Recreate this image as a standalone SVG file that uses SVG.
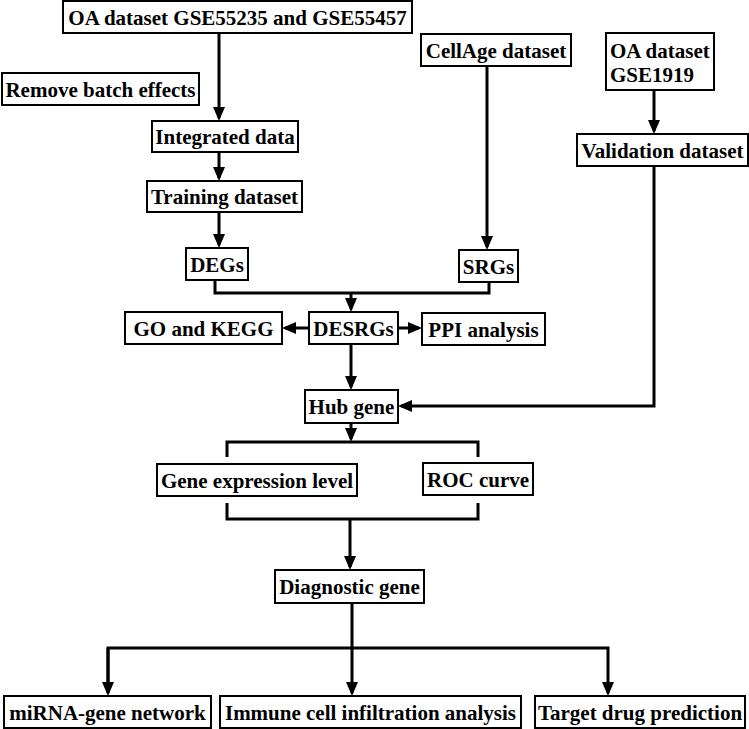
<svg xmlns="http://www.w3.org/2000/svg" width="749" height="729" viewBox="0 0 749 729">
<style>
.box{fill:#fff;stroke:#000;stroke-width:2}
.t{font-family:"Liberation Serif","Times New Roman",serif;font-weight:700;font-size:21px;fill:#000;text-anchor:middle}
.tl{text-anchor:start}
.c{fill:none;stroke:#000;stroke-width:3}
</style>
<defs>
<marker id="ah" markerUnits="userSpaceOnUse" markerWidth="14" markerHeight="12" refX="11" refY="6" orient="auto">
<path d="M0,0 L14,6 L0,12 z" fill="#000"/>
</marker>
</defs>
<rect width="749" height="729" fill="#fff"/>
<g id="connectors">
<path class="c" d="M219 33 V118" marker-end="url(#ah)"/>
<path class="c" d="M219 152 V178" marker-end="url(#ah)"/>
<path class="c" d="M219 212 V245" marker-end="url(#ah)"/>
<path class="c" d="M487 66 V247" marker-end="url(#ah)"/>
<path class="c" d="M654 90 V131" marker-end="url(#ah)"/>
<path class="c" d="M215 280 V293 H489 V282"/>
<path class="c" d="M351 293 V309" marker-end="url(#ah)"/>
<path class="c" d="M309 328 H285" marker-end="url(#ah)"/>
<path class="c" d="M398 328 H419" marker-end="url(#ah)"/>
<path class="c" d="M351 344 V387" marker-end="url(#ah)"/>
<path class="c" d="M654 166 V406 H401" marker-end="url(#ah)"/>
<path class="c" d="M351 423 V439" marker-end="url(#ah)"/>
<path class="c" d="M227 457 V442 H478 V457"/>
<path class="c" d="M227 503 V519 H478 V503"/>
<path class="c" d="M350 519 V567" marker-end="url(#ah)"/>
<path class="c" d="M352 603 V648"/>
<path class="c" d="M108 693 V648 H608 V693" marker-end="url(#ah)"/>
<path class="c" d="M108 648 V693" marker-end="url(#ah)"/>
<path class="c" d="M352 648 V693" marker-end="url(#ah)"/>
</g>
<g id="oa-main"><rect class="box" x="63" y="1" width="349" height="32"/><text class="t" x="237.5" y="25">OA dataset GSE55235 and GSE55457</text></g>
<g id="remove-batch"><rect class="box" x="2" y="73" width="197" height="32"/><text class="t" x="100.5" y="97">Remove batch effects</text></g>
<g id="integrated"><rect class="box" x="152" y="121" width="146" height="31"/><text class="t" x="225" y="144">Integrated data</text></g>
<g id="training"><rect class="box" x="147" y="181" width="155" height="31"/><text class="t" x="224.5" y="204">Training dataset</text></g>
<g id="degs"><rect class="box" x="186" y="248" width="62" height="32"/><text class="t" x="217" y="272">DEGs</text></g>
<g id="cellage"><rect class="box" x="421" y="34" width="150" height="32"/><text class="t" x="496" y="58">CellAge dataset</text></g>
<g id="oa-gse1919"><rect class="box" x="606" y="33" width="108" height="57"/><text class="t tl" x="610" y="58">OA dataset</text><text class="t tl" x="610" y="82">GSE1919</text></g>
<g id="validation"><rect class="box" x="577" y="134" width="171" height="32"/><text class="t" x="662.5" y="158">Validation dataset</text></g>
<g id="srgs"><rect class="box" x="459" y="250" width="59" height="32"/><text class="t" x="488.5" y="274">SRGs</text></g>
<g id="desrgs"><rect class="box" x="309" y="312" width="89" height="32"/><text class="t" x="353.5" y="336">DESRGs</text></g>
<g id="go-kegg"><rect class="box" x="125" y="312" width="157" height="32"/><text class="t" x="203.5" y="336">GO and KEGG</text></g>
<g id="ppi"><rect class="box" x="422" y="313" width="123" height="32"/><text class="t" x="483.5" y="337">PPI analysis</text></g>
<g id="hub"><rect class="box" x="305" y="390" width="93" height="33"/><text class="t" x="351.5" y="414">Hub gene</text></g>
<g id="gene-expr"><rect class="box" x="157" y="464" width="200" height="32"/><text class="t" x="257" y="488">Gene expression level</text></g>
<g id="roc"><rect class="box" x="423" y="463" width="110" height="32"/><text class="t" x="478" y="487">ROC curve</text></g>
<g id="diagnostic"><rect class="box" x="275" y="570" width="149" height="33"/><text class="t" x="349.5" y="594">Diagnostic gene</text></g>
<g id="mirna"><rect class="box" x="4" y="696" width="207" height="32"/><text class="t" x="107.5" y="720">miRNA-gene network</text></g>
<g id="immune"><rect class="box" x="220" y="696" width="301" height="32"/><text class="t" x="370.5" y="720">Immune cell infiltration analysis</text></g>
<g id="target-drug"><rect class="box" x="535" y="696" width="210" height="32"/><text class="t" x="640" y="720">Target drug prediction</text></g>
</svg>
